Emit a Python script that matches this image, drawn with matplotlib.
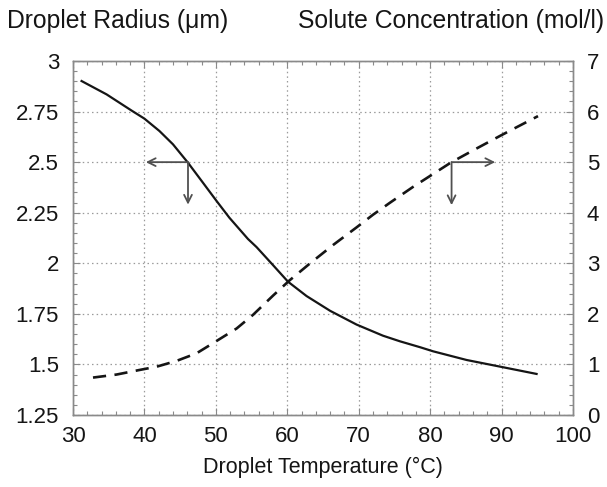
import matplotlib
matplotlib.use("Agg")
import matplotlib.pyplot as plt
from matplotlib.ticker import MultipleLocator, FixedLocator

plt.rcParams['font.family'] = ['Liberation Sans', 'DejaVu Sans']

# Droplet radius (left axis, solid)
radius_T = [31.2, 34.7, 38.2, 40.0, 42.1, 44.0, 46.1, 48.2, 50.1, 51.9, 54.5, 55.7, 58.0, 60.1,
            62.7, 66.0, 69.7, 73.4, 75.8, 78.6, 80.4, 85.1, 89.8, 94.9]
radius_um = [2.901, 2.835, 2.755, 2.715, 2.654, 2.588, 2.497, 2.398, 2.308, 2.225, 2.12, 2.08, 1.991, 1.909,
             1.838, 1.765, 1.697, 1.642, 1.614, 1.585, 1.565, 1.522, 1.489, 1.453]

# Solute concentration (right axis, dashed)
conc_T = [32.8, 36.1, 39.3, 41.7, 44.5, 47.3, 49.6, 52.9, 55.2, 58.0, 60.3, 63.2, 66.4, 69.7,
          72.0, 74.4, 77.6, 80.9, 83.0, 86.5, 89.8, 92.1, 95.1]
conc_mol = [0.74, 0.80, 0.89, 0.955, 1.07, 1.22, 1.42, 1.71, 1.98, 2.36, 2.66, 3.0, 3.36, 3.71,
            3.96, 4.20, 4.51, 4.81, 5.0, 5.27, 5.52, 5.69, 5.91]

x_ticks = [30, 40, 50, 60, 70, 80, 90, 100]
left_ticks = [1.25, 1.5, 1.75, 2, 2.25, 2.5, 2.75, 3]
left_labels = ['1.25', '1.5', '1.75', '2', '2.25', '2.5', '2.75', '3']
right_ticks = [0, 1, 2, 3, 4, 5, 6, 7]

FS = 16
FT = 17.8
FX = 15.5
grey = '#8a8a8a'
ink = '#151515'

fig = plt.figure(figsize=(6.07, 4.87), dpi=100)
ax = fig.add_axes([73/607, 1-415/487, 500/607, 354/487])
ax2 = ax.twinx()

ax.plot(radius_T, radius_um, color=ink, lw=1.6, solid_joinstyle='round')
ax2.plot(conc_T, conc_mol, color=ink, lw=1.9, dashes=(5, 3.2), dash_capstyle='butt')

ax.set_xlim(30, 100)
ax.set_ylim(1.25, 3)
ax2.set_ylim(0, 7)

ax.xaxis.set_major_locator(FixedLocator(x_ticks))
ax.xaxis.set_minor_locator(MultipleLocator(2))
ax.yaxis.set_major_locator(FixedLocator(left_ticks))
ax.set_yticklabels(left_labels)
ax.yaxis.set_minor_locator(MultipleLocator(0.05))
ax2.yaxis.set_major_locator(FixedLocator(right_ticks))
ax2.yaxis.set_minor_locator(MultipleLocator(0.2))

ax.grid(True, which='major', linestyle=(0, (1.2, 2.5)), color='#9a9a9a', lw=0.9)

for a in (ax, ax2):
    for s in a.spines.values():
        s.set_color(grey)
        s.set_linewidth(1.0)
ax.tick_params(axis='x', which='both', direction='in', top=True, colors=grey, labelcolor=ink, labelsize=FS, pad=8)
ax.tick_params(axis='y', which='both', direction='in', colors=grey, labelcolor=ink, labelsize=FS, pad=10)
ax2.tick_params(axis='y', which='both', direction='in', colors=grey, labelcolor=ink, labelsize=FS, pad=10)
for a in (ax, ax2):
    a.tick_params(which='major', length=5, width=0.8)
    a.tick_params(which='minor', length=3, width=0.8)

# Arrows
arrow_kw = dict(arrowstyle='->', color='#505050', lw=1.3, mutation_scale=14, shrinkA=0, shrinkB=0)
ax.annotate('', xy=(40.2, 2.5), xytext=(46.1, 2.5), arrowprops=arrow_kw)
ax.annotate('', xy=(46.1, 2.29), xytext=(46.1, 2.5), arrowprops=arrow_kw)
ax2.annotate('', xy=(89.1, 5.0), xytext=(83.0, 5.0), arrowprops=arrow_kw)
ax2.annotate('', xy=(83.0, 4.15), xytext=(83.0, 5.0), arrowprops=arrow_kw)

fig.text(7/607, 1-21/487, 'Droplet Radius (μm)', ha='left', va='center', fontsize=FT, color=ink)
fig.text(604/607, 1-21/487, 'Solute Concentration (mol/l)', ha='right', va='center', fontsize=FT, color=ink)
fig.text(323/607, 1-467/487, 'Droplet Temperature (°C)', ha='center', va='center', fontsize=FX, color=ink)

fig.savefig('out.png', dpi=100)
